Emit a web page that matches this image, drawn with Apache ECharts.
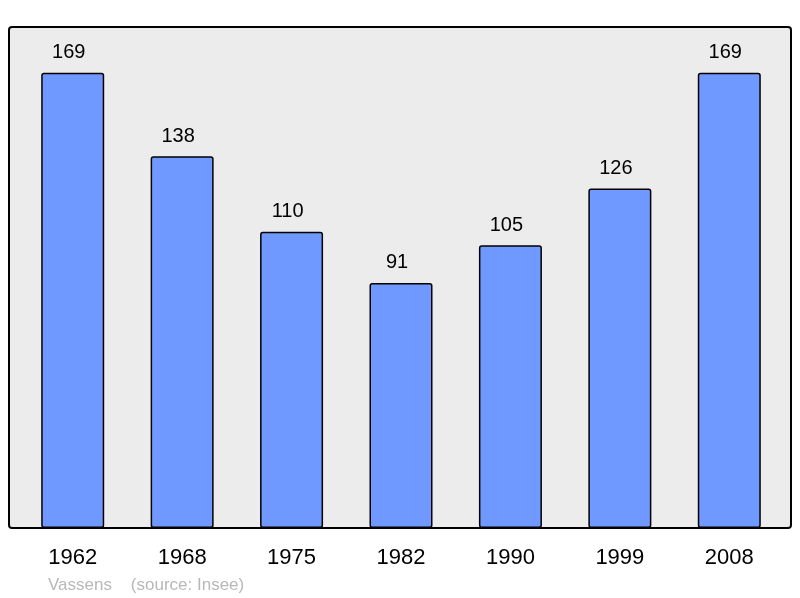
<!DOCTYPE html>
<html><head><meta charset="utf-8">
<script src="https://cdn.jsdelivr.net/npm/echarts@6/dist/echarts.min.js"></script>
<style>html,body{margin:0;padding:0;background:#fff}#c{width:800px;height:598px}</style>
</head><body><div id="c"></div>
<script>
const years = ['1962','1968','1975','1982','1990','1999','2008'];
const population = [169,138,110,91,105,126,169];
const footer = 'Vassens    (source: Insee)';

const chart = echarts.init(document.getElementById('c'), null, {renderer:'canvas'});
chart.setOption({
  animation:false,
  backgroundColor:'#ffffff',
  graphic:[
    {type:'rect', z:-10, shape:{x:9, y:27, width:782, height:501, r:3},
     style:{fill:'#ececec', stroke:'#000', lineWidth:2}},
    {type:'text', left:48, top:577, style:{text:footer, fill:'#b8b8b8', font:'17px "Liberation Sans", Arial, sans-serif'}}
  ],
  grid:{left:18, right:16, top:27, bottom:70, show:false},
  xAxis:{type:'category', data:years,
    axisLine:{show:false}, axisTick:{show:false},
    axisLabel:{color:'#000', fontSize:22, fontFamily:'"Liberation Sans", Arial, sans-serif', margin:19}},
  yAxis:{type:'value', min:0, max:186, show:false, splitLine:{show:false}},
  series:[{type:'bar', data:population, barWidth:63,
    itemStyle:{color:'#7099ff', borderColor:'#000', borderWidth:1.5, borderRadius:2},
    label:{show:true, position:'top', distance:10, offset:[-4,0], color:'#000', fontSize:20,
      fontFamily:'"Liberation Sans", Arial, sans-serif'}}]
});
</script></body></html>
